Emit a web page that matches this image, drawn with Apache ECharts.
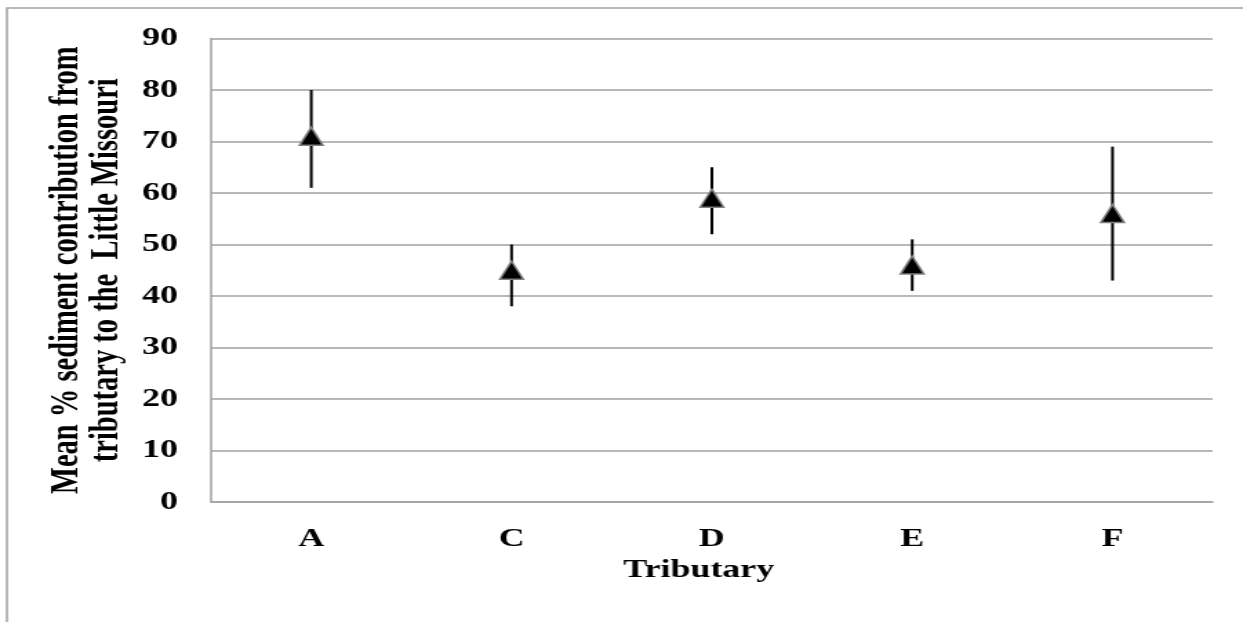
<!DOCTYPE html>
<html>
<head>
<meta charset="utf-8">
<script src="https://cdn.jsdelivr.net/npm/echarts@6/dist/echarts.min.js"></script>
<style>
html,body{margin:0;padding:0;background:#fff;}
#wrap{width:1243px;height:622px;overflow:hidden;background:#fff;position:relative;}
#chart{width:901px;height:622px;transform:scaleX(1.3796);transform-origin:0 0;}
</style>
</head>
<body>
<div id="wrap"><div id="chart"></div></div>
<script>
// Data
const categories = ['A', 'C', 'D', 'E', 'F'];
const means = [71, 45, 59, 46, 56];
const upper = [80, 50, 65, 51, 69];
const lower = [61, 38, 52, 41, 43];
const yTicks = { min: 0, max: 90, interval: 10 };
const xTitle = 'Tributary';
const yTitle = 'Mean % sediment contribution from\ntributary to the  Little Missouri';

const FONT = 'Liberation Serif';
const chart = echarts.init(document.getElementById('chart'), null, { renderer: 'canvas' });

const option = {
  backgroundColor: '#fff',
  animation: false,
  graphic: [{
    type: 'rect',
    shape: { x: 5, y: 8, width: 3000, height: 3000 },
    style: { fill: 'none', stroke: '#a0a0a0', lineWidth: 1.5 },
    silent: true, z: -10
  }],
  grid: { left: 153, right: 22, top: 38.5, bottom: 120, containLabel: false },
  xAxis: {
    type: 'category',
    data: categories,
    boundaryGap: true,
    axisLine: { show: true, lineStyle: { color: '#a0a0a0', width: 1.5 } },
    axisTick: { show: false },
    axisLabel: { color: '#000', fontFamily: FONT, fontWeight: 'bold', fontSize: 26, margin: 24 },
    name: xTitle,
    nameLocation: 'middle',
    nameGap: 49,
    nameTextStyle: { color: '#000', fontFamily: FONT, fontWeight: 'bold', fontSize: 26, padding: [0, 19, 0, 0] },
    splitLine: { show: false }
  },
  yAxis: {
    type: 'value',
    min: yTicks.min, max: yTicks.max, interval: yTicks.interval,
    axisLine: { show: true, lineStyle: { color: '#a0a0a0', width: 1.5 } },
    axisTick: { show: false },
    axisLabel: { color: '#000', fontFamily: FONT, fontWeight: 'bold', fontSize: 26, margin: 24 },
    splitLine: { show: true, lineStyle: { color: '#a0a0a0', width: 1.5 } },
    name: yTitle,
    nameLocation: 'middle',
    nameGap: 57,
    nameRotate: 90,
    nameTextStyle: { color: '#000', fontFamily: FONT, fontWeight: 'bold', fontSize: 28.5, lineHeight: 29 }
  },
  series: [
    {
      type: 'custom',
      data: categories.map((c, i) => [i, lower[i], upper[i]]),
      renderItem: function (params, api) {
        const p1 = api.coord([api.value(0), api.value(1)]);
        const p2 = api.coord([api.value(0), api.value(2)]);
        return {
          type: 'line',
          shape: { x1: p1[0], y1: p1[1], x2: p2[0], y2: p2[1] },
          style: { stroke: '#000', lineWidth: 2 }
        };
      },
      z: 2
    },
    {
      type: 'scatter',
      data: means,
      symbol: 'triangle',
      symbolSize: [17, 18],
      itemStyle: { color: '#000', borderColor: '#7f7f7f', borderWidth: 1.5, opacity: 1 },
      z: 3
    }
  ]
};
chart.setOption(option);
</script>
</body>
</html>
